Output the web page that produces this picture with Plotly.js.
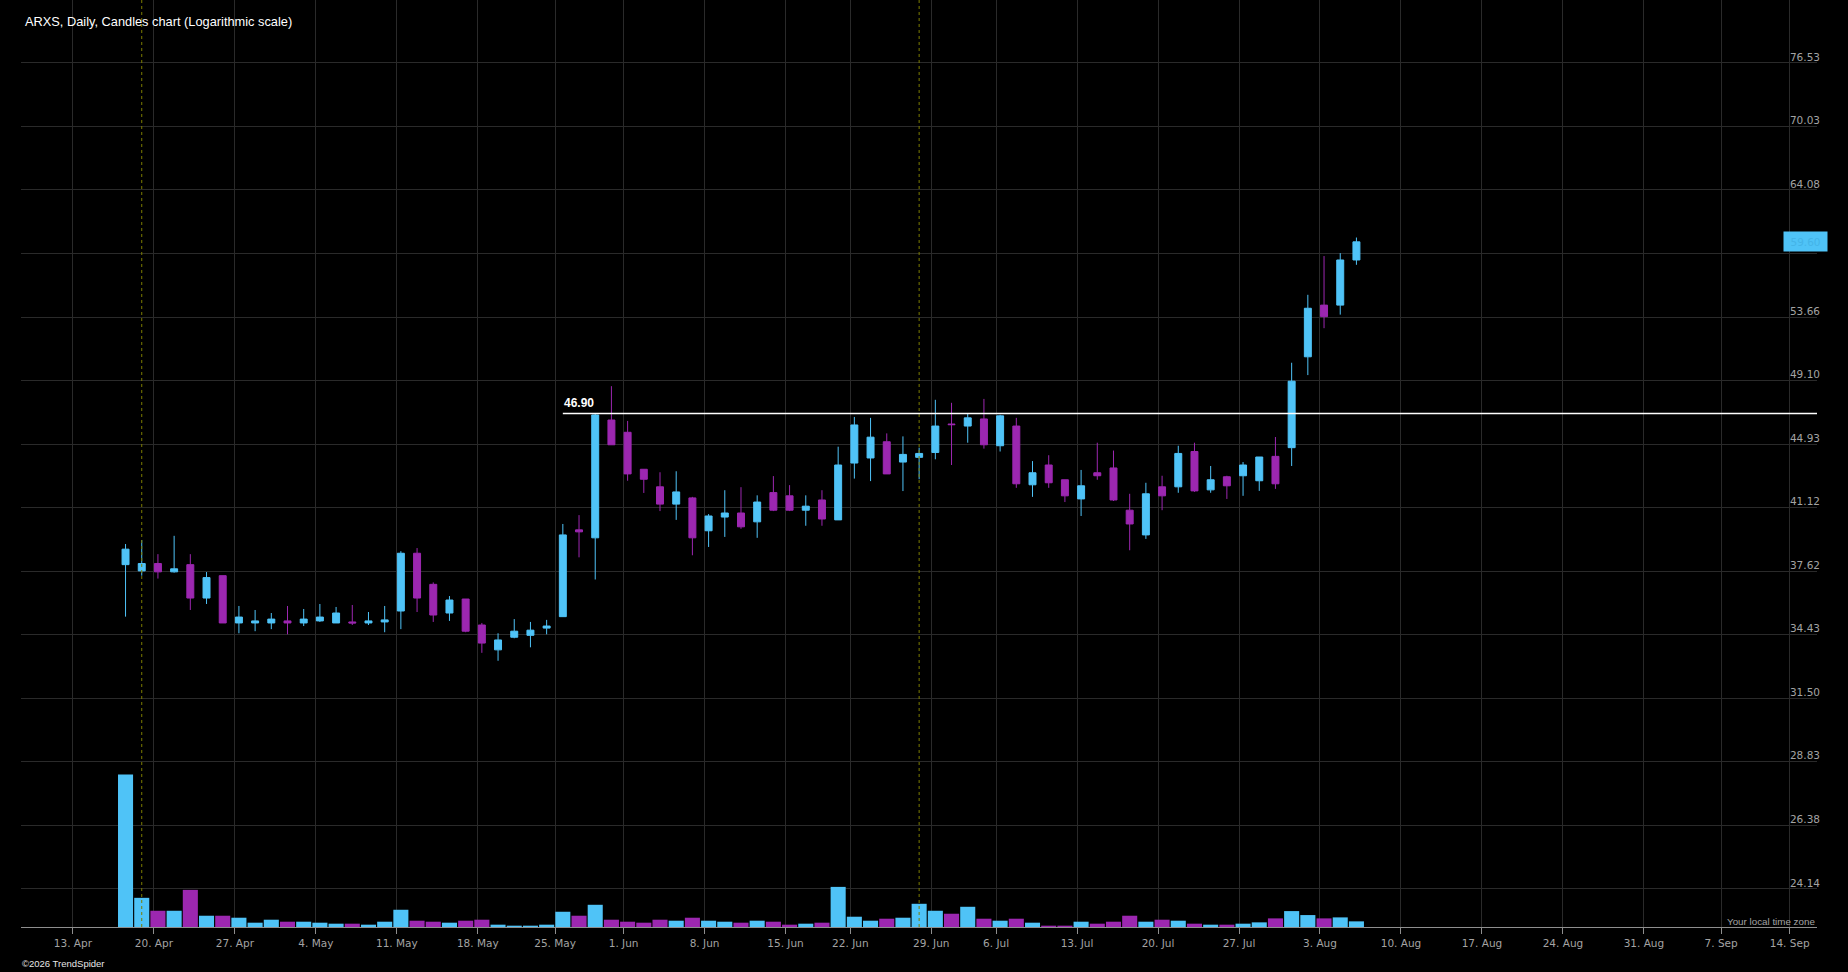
<!DOCTYPE html>
<html>
<head>
<meta charset="utf-8">
<script src="https://cdn.plot.ly/plotly-3.0.1.min.js"></script>
<style>
  html, body { margin: 0; padding: 0; background: #000; }
  #chart { width: 1848px; height: 972px; }
</style>
</head>
<body>
<div id="chart"></div>
<script>
// ---------------- DATA ----------------
const dates = [
  '2026-04-16','2026-04-17','2026-04-20','2026-04-21','2026-04-22','2026-04-23','2026-04-24',
  '2026-04-27','2026-04-28','2026-04-29','2026-04-30','2026-05-01',
  '2026-05-04','2026-05-05','2026-05-06','2026-05-07','2026-05-08',
  '2026-05-11','2026-05-12','2026-05-13','2026-05-14','2026-05-15',
  '2026-05-18','2026-05-19','2026-05-20','2026-05-21','2026-05-22',
  '2026-05-26','2026-05-27','2026-05-28','2026-05-29',
  '2026-06-01','2026-06-02','2026-06-03','2026-06-04','2026-06-05',
  '2026-06-08','2026-06-09','2026-06-10','2026-06-11','2026-06-12',
  '2026-06-15','2026-06-16','2026-06-17','2026-06-18',
  '2026-06-22','2026-06-23','2026-06-24','2026-06-25','2026-06-26',
  '2026-06-29','2026-06-30','2026-07-01','2026-07-02',
  '2026-07-06','2026-07-07','2026-07-08','2026-07-09','2026-07-10',
  '2026-07-13','2026-07-14','2026-07-15','2026-07-16','2026-07-17',
  '2026-07-20','2026-07-21','2026-07-22','2026-07-23','2026-07-24',
  '2026-07-27','2026-07-28','2026-07-29','2026-07-30','2026-07-31',
  '2026-08-03','2026-08-04','2026-08-05'
];
const open = [
  37.97,37.64,38.03,37.59,37.97,36.24,37.39,
  35.00,35.00,35.00,35.10,35.00,
  35.10,35.00,35.05,35.00,35.05,
  35.59,38.58,36.94,35.49,36.19,
  34.90,33.71,34.31,34.40,34.75,
  35.31,39.86,39.42,46.47,
  45.68,43.38,42.33,41.32,41.68,
  39.81,40.58,40.81,40.31,41.99,
  41.80,40.97,41.56,40.42,
  43.76,44.07,45.08,43.82,44.11,
  44.41,46.21,46.08,46.54,
  44.83,46.08,42.45,43.64,42.75,
  41.62,43.17,43.46,40.97,39.58,
  42.33,42.33,44.47,42.15,42.93,
  42.99,42.69,44.17,44.71,50.76,
  54.56,54.56,58.11
];
const high = [
  39.08,39.30,38.53,39.53,38.53,37.58,37.39,
  35.84,35.64,35.49,35.84,35.69,
  35.94,35.79,35.89,35.54,35.84,
  38.69,38.86,37.04,36.34,36.19,
  35.00,34.50,35.19,35.05,35.15,
  40.19,40.69,46.90,48.72,
  46.41,43.38,43.20,43.26,41.74,
  40.75,42.13,42.31,41.83,42.97,
  42.43,41.83,42.13,44.77,
  46.67,46.61,45.61,45.42,44.71,
  47.80,47.60,46.90,47.86,
  46.81,46.61,43.88,44.24,42.75,
  43.34,45.02,44.53,41.92,42.57,
  42.99,44.83,45.02,43.58,42.99,
  43.82,44.13,45.38,50.34,55.35,
  58.43,58.67,59.96
];
const low = [
  35.31,37.39,37.24,37.55,35.64,35.94,35.00,
  34.50,34.60,34.70,34.45,34.85,
  35.05,35.00,34.90,34.90,34.55,
  34.70,35.54,35.05,35.10,34.55,
  33.57,33.20,34.26,33.83,34.45,
  35.31,38.36,37.19,44.89,
  42.69,41.97,40.92,40.42,38.47,
  38.92,39.47,39.92,39.42,40.92,
  40.92,40.09,40.09,40.42,
  42.82,42.67,43.10,42.08,42.78,
  43.99,43.64,45.02,44.65,
  44.47,42.27,41.74,42.27,41.44,
  40.64,42.75,41.50,38.74,39.36,
  40.97,41.98,42.03,41.98,41.62,
  41.80,42.09,42.21,43.58,49.48,
  52.83,53.84,57.72
];
const close = [
  38.80,38.03,37.59,37.75,36.24,37.29,35.00,
  35.29,35.10,35.19,35.00,35.19,
  35.29,35.49,35.00,35.10,35.15,
  38.58,36.24,35.39,36.14,34.60,
  34.03,34.18,34.60,34.65,34.85,
  39.58,39.75,46.80,44.89,
  43.10,42.78,41.32,42.03,39.42,
  40.64,40.81,40.03,41.44,40.97,
  40.97,41.20,40.47,43.64,
  46.15,45.37,43.10,44.29,44.35,
  46.08,46.17,46.61,44.89,
  46.74,42.51,43.17,42.57,41.80,
  42.39,42.99,41.56,40.19,41.92,
  41.80,44.35,42.09,42.75,42.39,
  43.64,44.13,42.51,49.06,54.32,
  53.69,58.11,59.60
];
// volume (thousands of shares, estimated)
const volume = [
  9200,1760,980,980,2240,680,680,
  560,260,440,320,320,
  260,200,200,140,320,
  1040,380,320,260,380,
  440,140,80,80,140,
  920,680,1340,440,
  320,260,440,380,560,
  380,320,260,380,320,
  140,200,260,2420,
  620,380,500,560,1400,
  980,800,1220,500,
  380,500,260,80,80,
  320,200,320,680,320,
  440,380,200,140,140,
  200,280,520,960,720,
  520,580,340
];
const holidays = ['2026-05-25','2026-06-19','2026-07-03','2026-09-07'];
const tickDates = ['2026-04-13','2026-04-20','2026-04-27','2026-05-04','2026-05-11','2026-05-18','2026-05-25',
  '2026-06-01','2026-06-08','2026-06-15','2026-06-22','2026-06-29','2026-07-06','2026-07-13','2026-07-20',
  '2026-07-27','2026-08-03','2026-08-10','2026-08-17','2026-08-24','2026-08-31','2026-09-07','2026-09-14'];
const tickLabels = ['13. Apr','20. Apr','27. Apr','4. May','11. May','18. May','25. May',
  '1. Jun','8. Jun','15. Jun','22. Jun','29. Jun','6. Jul','13. Jul','20. Jul',
  '27. Jul','3. Aug','10. Aug','17. Aug','24. Aug','31. Aug','7. Sep','14. Sep'];
const priceTicks = [24.14,26.38,28.83,31.50,34.43,37.62,41.12,44.93,49.10,53.66,58.64,64.08,70.03,76.53];
const eventDates = ['2026-04-17','2026-06-26'];
const levelStart = '2026-05-26';
const levelValue = 46.90;
const lastPrice = 59.60;
const titleText = 'ARXS, Daily, Candles chart (Logarithmic scale)';

// ---------------- STYLE ----------------
const BLUE = '#4fc3f7';
const PURPLE = '#9c27b0';
const GRID = '#2a2a2a';
const AXTXT = '#a3a3a3';
const W = 1848, H = 972;
const M = {l: 21, r: 31, t: 0, b: 45};
const plotH = H - M.t - M.b;
const xRange = ['2026-04-08 01:05', '2026-09-15 22:30'];
const yRange = [Math.log10(22.89), Math.log10(83.55)];

function nextDay(d) {
  const t = new Date(d + 'T00:00:00Z');
  t.setUTCDate(t.getUTCDate() + 1);
  return t.toISOString().slice(0, 10);
}
// a tick that falls on a market holiday is drawn at the start of the next session
const tickPos = tickDates.map(d => holidays.includes(d) ? nextDay(d) + ' 00:30' : d + ' 06:00');

const xs = dates.map(d => d + ' 12:00');
const volColors = close.map((c, i) => c >= open[i] ? BLUE : PURPLE);
const maxVol = Math.max(...volume);

const traces = [
  {
    type: 'bar', x: xs, y: volume, xaxis: 'x', yaxis: 'y2',
    marker: {color: volColors, line: {width: 0}},
    hoverinfo: 'skip', showlegend: false
  },
  {
    type: 'candlestick', x: xs, open: open, high: high, low: low, close: close,
    xaxis: 'x', yaxis: 'y',
    increasing: {line: {color: BLUE, width: 1}, fillcolor: BLUE},
    decreasing: {line: {color: PURPLE, width: 1}, fillcolor: PURPLE},
    whiskerwidth: 0, hoverinfo: 'skip', showlegend: false
  }
];

const shapes = [];
eventDates.forEach(d => shapes.push({
  type: 'line', xref: 'x', yref: 'paper', x0: d + ' 12:00', x1: d + ' 12:00', y0: 0, y1: 1,
  line: {color: '#7d7d00', width: 1, dash: 'dot'}, layer: 'above'
}));
shapes.push({
  type: 'line', xref: 'x', yref: 'y', x0: levelStart + ' 12:00', x1: xRange[1],
  y0: levelValue, y1: levelValue, line: {color: '#ffffff', width: 1.5}, layer: 'above'
});

const annotations = [
  {xref: 'paper', yref: 'paper', x: 2 / (W - M.l - M.r), y: 1 - 22 / plotH, xanchor: 'left', yanchor: 'middle',
   text: titleText, showarrow: false, font: {family: 'Liberation Sans, Arial, sans-serif', size: 12.8, color: '#ffffff'}},
  {xref: 'paper', yref: 'paper', x: -1 / (W - M.l - M.r), y: -(963 - 927) / plotH, xanchor: 'left', yanchor: 'middle',
   text: '©2026 TrendSpider', showarrow: false, font: {family: 'Liberation Sans, Arial, sans-serif', size: 9.5, color: '#e6e6e6'}},
  {xref: 'paper', yref: 'paper', x: 1, y: (927 - 921) / plotH, xanchor: 'right', yanchor: 'middle',
   text: 'Your local time zone', showarrow: false, font: {family: 'Liberation Sans, Arial, sans-serif', size: 9.8, color: AXTXT}},
  {xref: 'x', yref: 'y', x: levelStart + ' 12:00', y: Math.log10(levelValue), xanchor: 'left', yanchor: 'bottom',
   yshift: 1, xshift: -1, text: '<b>' + levelValue.toFixed(2) + '</b>', showarrow: false,
   font: {family: 'Liberation Sans, Arial, sans-serif', size: 12, color: '#ffffff'}},
  {xref: 'paper', yref: 'y', x: (1805.5 - M.l) / (W - M.l - M.r), y: Math.log10(lastPrice), xanchor: 'center', yanchor: 'middle',
   text: lastPrice.toFixed(2), showarrow: false, bgcolor: BLUE, width: 41, height: 17, borderpad: 1,
   font: {family: 'DejaVu Sans, sans-serif', size: 10.5, color: '#44b4e8'}}
];

const layout = {
  width: W, height: H,
  margin: M,
  paper_bgcolor: '#000000', plot_bgcolor: '#000000',
  showlegend: false,
  bargap: 0.07,
  boxgap: 0.57, boxgroupgap: 0,
  xaxis: {
    type: 'date', range: xRange,
    rangebreaks: [{bounds: ['sat', 'mon']}, {values: holidays}],
    rangeslider: {visible: false},
    tickmode: 'array', tickvals: tickPos, ticktext: tickLabels,
    showgrid: true, gridcolor: GRID, gridwidth: 1,
    showline: true, linecolor: '#8e8e8e', linewidth: 1,
    ticks: 'outside', ticklen: 6, tickcolor: '#8e8e8e', tickwidth: 1,
    tickfont: {family: 'DejaVu Sans, sans-serif', size: 10.5, color: AXTXT},
    zeroline: false, fixedrange: true
  },
  yaxis: {
    type: 'log', range: yRange, side: 'right',
    tickmode: 'array', tickvals: priceTicks, ticktext: priceTicks.map(v => v.toFixed(2)),
    ticklabelposition: 'inside', ticklabelshift: -6, ticklabelstandoff: -6, ticklabeloverflow: 'allow',
    showgrid: true, gridcolor: GRID, gridwidth: 1,
    showline: false, zeroline: false, ticks: '',
    tickfont: {family: 'DejaVu Sans, sans-serif', size: 10.5, color: AXTXT},
    fixedrange: true
  },
  yaxis2: {
    overlaying: 'y', side: 'left', range: [0, maxVol * plotH / 152.5],
    showgrid: false, zeroline: false, showticklabels: false, showline: false, ticks: '',
    fixedrange: true
  },
  shapes: shapes,
  annotations: annotations
};

Plotly.newPlot('chart', traces, layout, {staticPlot: true, displayModeBar: false});
</script>
</body>
</html>
